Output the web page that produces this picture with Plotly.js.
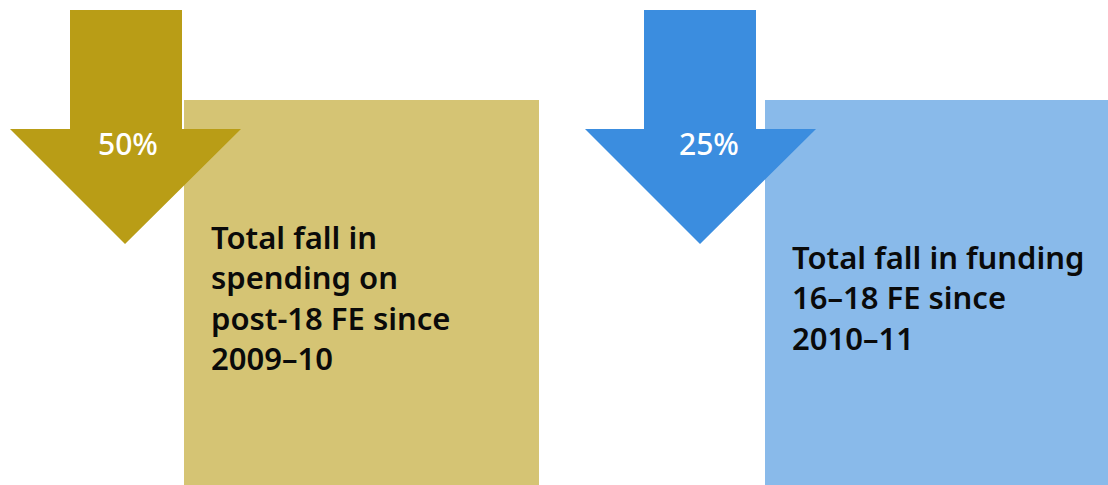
<!DOCTYPE html>
<html>
<head>
<meta charset="utf-8">
<script src="https://cdn.plot.ly/plotly-3.0.1.min.js"></script>
<style>html,body{margin:0;padding:0;background:#fff;}#chart{width:1108px;height:485px;}</style>
</head>
<body>
<div id="chart"></div>
<script>
// Data
const percentages = ['50%', '25%'];
const descriptionLines = [
  ['Total fall in', 'spending on', 'post-18 FE since', '2009–10'],
  ['Total fall in funding', '16–18 FE since', '2010–11']
];

// Styling / geometry (pixel space, y downwards)
const arrowColors = ['#B99D16', '#3B8DDF'];
const boxColors = ['#D5C474', '#89BAEA'];
const panels = [
  {shaft: [70, 182], head: [10, 241], tip: 125, box: [184, 539], pctX: 128, descX: 209, descY: 297},
  {shaft: [644, 756], head: [585, 816], tip: 700, box: [765, 1108], pctX: 709, descX: 790, descY: 297}
];
const shaftTop = 10, headY = 129, tipY = 244, boxTop = 100, boxBottom = 485, pctY = 143;

const shapes = [];
const annotations = [];
panels.forEach((p, i) => {
  shapes.push({type: 'rect', xref: 'x', yref: 'y', x0: p.box[0], x1: p.box[1], y0: boxTop, y1: boxBottom,
    fillcolor: boxColors[i], line: {width: 0}, layer: 'above'});
  const path = `M${p.shaft[0]},${shaftTop} L${p.shaft[1]},${shaftTop} L${p.shaft[1]},${headY} L${p.head[1]},${headY} ` +
    `L${p.tip},${tipY} L${p.head[0]},${headY} L${p.shaft[0]},${headY} Z`;
  shapes.push({type: 'path', xref: 'x', yref: 'y', path: path, fillcolor: arrowColors[i], line: {width: 0}, layer: 'above'});
  annotations.push({xref: 'x', yref: 'y', x: p.pctX, y: pctY, text: percentages[i], showarrow: false,
    xanchor: 'center', yanchor: 'middle', font: {family: 'Noto Sans', size: 30, color: '#ffffff', weight: 500}});
  annotations.push({xref: 'x', yref: 'y', x: p.descX, y: p.descY, text: descriptionLines[i].join('<br>'), showarrow: false,
    xanchor: 'left', yanchor: 'middle', align: 'left',
    font: {family: 'Noto Sans', size: 31, color: '#0a0a0a', weight: 600}});
});

const layout = {
  width: 1108, height: 485,
  margin: {l: 0, r: 0, t: 0, b: 0},
  paper_bgcolor: '#ffffff', plot_bgcolor: '#ffffff',
  xaxis: {range: [0, 1108], visible: false, fixedrange: true},
  yaxis: {range: [485, 0], visible: false, fixedrange: true},
  shapes: shapes,
  annotations: annotations,
  showlegend: false
};

Plotly.newPlot('chart', [], layout, {displayModeBar: false, staticPlot: true});
</script>
</body>
</html>
